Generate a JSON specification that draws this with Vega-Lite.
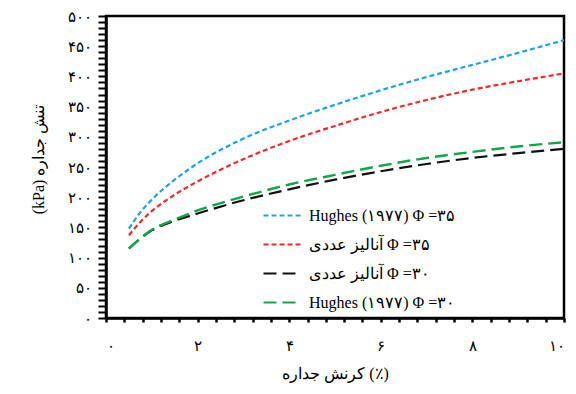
{
  "$schema": "https://vega.github.io/schema/vega-lite/v6.json",
  "width": 458,
  "height": 302,
  "autosize": "none",
  "padding": {"left": 106, "top": 16, "right": 12, "bottom": 76},
  "background": "white",
  "config": {
    "font": "Liberation Serif",
    "view": {"stroke": "black", "strokeWidth": 2.5}
  },
  "data": {
    "values": [
      {"x": 0.5, "y": 148, "s": "Hughes (۱۹۷۷) Φ =۳۵"},
      {"x": 0.75, "y": 175, "s": "Hughes (۱۹۷۷) Φ =۳۵"},
      {"x": 1, "y": 196, "s": "Hughes (۱۹۷۷) Φ =۳۵"},
      {"x": 1.5, "y": 229, "s": "Hughes (۱۹۷۷) Φ =۳۵"},
      {"x": 2, "y": 256, "s": "Hughes (۱۹۷۷) Φ =۳۵"},
      {"x": 3, "y": 297, "s": "Hughes (۱۹۷۷) Φ =۳۵"},
      {"x": 4, "y": 327, "s": "Hughes (۱۹۷۷) Φ =۳۵"},
      {"x": 5, "y": 353, "s": "Hughes (۱۹۷۷) Φ =۳۵"},
      {"x": 6, "y": 377, "s": "Hughes (۱۹۷۷) Φ =۳۵"},
      {"x": 7, "y": 399, "s": "Hughes (۱۹۷۷) Φ =۳۵"},
      {"x": 8, "y": 419, "s": "Hughes (۱۹۷۷) Φ =۳۵"},
      {"x": 9, "y": 439, "s": "Hughes (۱۹۷۷) Φ =۳۵"},
      {"x": 10, "y": 460, "s": "Hughes (۱۹۷۷) Φ =۳۵"},
      {"x": 0.5, "y": 137, "s": "\u200eآنالیز عددی Φ =۳۵"},
      {"x": 0.75, "y": 159, "s": "\u200eآنالیز عددی Φ =۳۵"},
      {"x": 1, "y": 177, "s": "\u200eآنالیز عددی Φ =۳۵"},
      {"x": 1.5, "y": 204, "s": "\u200eآنالیز عددی Φ =۳۵"},
      {"x": 2, "y": 226, "s": "\u200eآنالیز عددی Φ =۳۵"},
      {"x": 3, "y": 263, "s": "\u200eآنالیز عددی Φ =۳۵"},
      {"x": 4, "y": 293, "s": "\u200eآنالیز عددی Φ =۳۵"},
      {"x": 5, "y": 318, "s": "\u200eآنالیز عددی Φ =۳۵"},
      {"x": 6, "y": 341, "s": "\u200eآنالیز عددی Φ =۳۵"},
      {"x": 7, "y": 361, "s": "\u200eآنالیز عددی Φ =۳۵"},
      {"x": 8, "y": 378, "s": "\u200eآنالیز عددی Φ =۳۵"},
      {"x": 9, "y": 392, "s": "\u200eآنالیز عددی Φ =۳۵"},
      {"x": 10, "y": 405, "s": "\u200eآنالیز عددی Φ =۳۵"},
      {"x": 0.5, "y": 115, "s": "\u200eآنالیز عددی Φ =۳۰"},
      {"x": 1, "y": 145, "s": "\u200eآنالیز عددی Φ =۳۰"},
      {"x": 1.5, "y": 161, "s": "\u200eآنالیز عددی Φ =۳۰"},
      {"x": 2, "y": 173, "s": "\u200eآنالیز عددی Φ =۳۰"},
      {"x": 3, "y": 195, "s": "\u200eآنالیز عددی Φ =۳۰"},
      {"x": 4, "y": 213, "s": "\u200eآنالیز عددی Φ =۳۰"},
      {"x": 5, "y": 229, "s": "\u200eآنالیز عددی Φ =۳۰"},
      {"x": 6, "y": 243, "s": "\u200eآنالیز عددی Φ =۳۰"},
      {"x": 7, "y": 255, "s": "\u200eآنالیز عددی Φ =۳۰"},
      {"x": 8, "y": 265, "s": "\u200eآنالیز عددی Φ =۳۰"},
      {"x": 9, "y": 273, "s": "\u200eآنالیز عددی Φ =۳۰"},
      {"x": 10, "y": 280, "s": "\u200eآنالیز عددی Φ =۳۰"},
      {"x": 0.5, "y": 115, "s": "Hughes (۱۹۷۷) Φ =۳۰"},
      {"x": 1, "y": 146, "s": "Hughes (۱۹۷۷) Φ =۳۰"},
      {"x": 1.5, "y": 163, "s": "Hughes (۱۹۷۷) Φ =۳۰"},
      {"x": 2, "y": 178, "s": "Hughes (۱۹۷۷) Φ =۳۰"},
      {"x": 3, "y": 201, "s": "Hughes (۱۹۷۷) Φ =۳۰"},
      {"x": 4, "y": 221, "s": "Hughes (۱۹۷۷) Φ =۳۰"},
      {"x": 5, "y": 237, "s": "Hughes (۱۹۷۷) Φ =۳۰"},
      {"x": 6, "y": 252, "s": "Hughes (۱۹۷۷) Φ =۳۰"},
      {"x": 7, "y": 265, "s": "Hughes (۱۹۷۷) Φ =۳۰"},
      {"x": 8, "y": 275, "s": "Hughes (۱۹۷۷) Φ =۳۰"},
      {"x": 9, "y": 284, "s": "Hughes (۱۹۷۷) Φ =۳۰"},
      {"x": 10, "y": 291, "s": "Hughes (۱۹۷۷) Φ =۳۰"}
    ]
  },
  "encoding": {
    "x": {
      "field": "x",
      "type": "quantitative",
      "scale": {"domain": [0, 10], "nice": false, "zero": false},
      "axis": {
        "title": "\u200eکرنش جداره (٪)",
        "titleFontSize": 16,
        "titleFontWeight": "normal",
        "titlePadding": 12,
        "values": [0, 0.4, 0.8, 1.2, 1.6, 2, 2.4, 2.8, 3.2, 3.6, 4, 4.4, 4.8, 5.2, 5.6, 6, 6.4, 6.8, 7.2, 7.6, 8, 8.4, 8.8, 9.2, 9.6, 10],
        "tickCount": 200,
        "labelExpr": "abs(datum.value - round(datum.value / 2) * 2) < 0.01 ? join(split(join(split(join(split(join(split(join(split(join(split(join(split(join(split(join(split(join(split(format(datum.value, 'd'),'0'),'۰'),'1'),'۱'),'2'),'۲'),'3'),'۳'),'4'),'۴'),'5'),'۵'),'6'),'۶'),'7'),'۷'),'8'),'۸'),'9'),'۹') : ''",
        "labelOverlap": false,
        "labelFontSize": 15,
        "labelColor": "black",
        "labelPadding": 16,
        "tickSize": 4,
        "tickWidth": 2.5,
        "tickColor": "black",
        "domainColor": "black",
        "domainWidth": 2.5,
        "grid": false
      }
    },
    "y": {
      "field": "y",
      "type": "quantitative",
      "scale": {"domain": [0, 500], "nice": false},
      "axis": {
        "title": "(kPa) تنش جداره",
        "titleFontSize": 16,
        "titleFontWeight": "normal",
        "titleX": -68,
        "titleY": 143,
        "titleBaseline": "middle",
        "titleAngle": -90,
        "values": [0,10,20,30,40,50,60,70,80,90,100,110,120,130,140,150,160,170,180,190,200,210,220,230,240,250,260,270,280,290,300,310,320,330,340,350,360,370,380,390,400,410,420,430,440,450,460,470,480,490,500],
        "tickCount": 200,
        "labelExpr": "datum.value % 50 == 0 ? join(split(join(split(join(split(join(split(join(split(join(split(join(split(join(split(join(split(join(split(format(datum.value, 'd'),'0'),'۰'),'1'),'۱'),'2'),'۲'),'3'),'۳'),'4'),'۴'),'5'),'۵'),'6'),'۶'),'7'),'۷'),'8'),'۸'),'9'),'۹') : ''",
        "labelOverlap": false,
        "labelFontSize": 15,
        "labelColor": "black",
        "labelPadding": 7,
        "labelBaseline": "middle",
        "tickSize": 8,
        "tickWidth": 2,
        "tickColor": "black",
        "domainColor": "black",
        "domainWidth": 2.5,
        "grid": false
      }
    },
    "color": {
      "field": "s",
      "type": "nominal",
      "scale": {
        "domain": ["Hughes (۱۹۷۷) Φ =۳۵", "\u200eآنالیز عددی Φ =۳۵", "\u200eآنالیز عددی Φ =۳۰", "Hughes (۱۹۷۷) Φ =۳۰"],
        "range": ["#1ca3e3", "#ee2a2a", "#111111", "#13a54a"]
      },
      "legend": {
        "title": null,
        "orient": "none",
        "legendX": 156,
        "legendY": 179,
        "symbolType": "stroke",
        "symbolSize": 1444,
        "symbolStrokeWidth": 2.2,
        "labelFontSize": 16,
        "labelColor": "black",
        "labelOffset": 6,
        "rowPadding": -12,
        "labelLimit": 300
      }
    },
    "strokeDash": {
      "field": "s",
      "type": "nominal",
      "scale": {
        "domain": ["Hughes (۱۹۷۷) Φ =۳۵", "\u200eآنالیز عددی Φ =۳۵", "\u200eآنالیز عددی Φ =۳۰", "Hughes (۱۹۷۷) Φ =۳۰"],
        "range": [[5, 3], [5, 3], [13, 6], [13, 6]]
      },
      "legend": null
    }
  },
  "layer": [
    {
      "transform": [{"filter": "datum.s != 'Hughes (۱۹۷۷) Φ =۳۰'"}],
      "mark": {"type": "line", "strokeWidth": 2.2, "interpolate": "monotone", "clip": true}
    },
    {
      "transform": [{"filter": "datum.s == 'Hughes (۱۹۷۷) Φ =۳۰'"}],
      "mark": {"type": "line", "strokeWidth": 2.4, "interpolate": "monotone", "clip": true}
    }
  ]
}
